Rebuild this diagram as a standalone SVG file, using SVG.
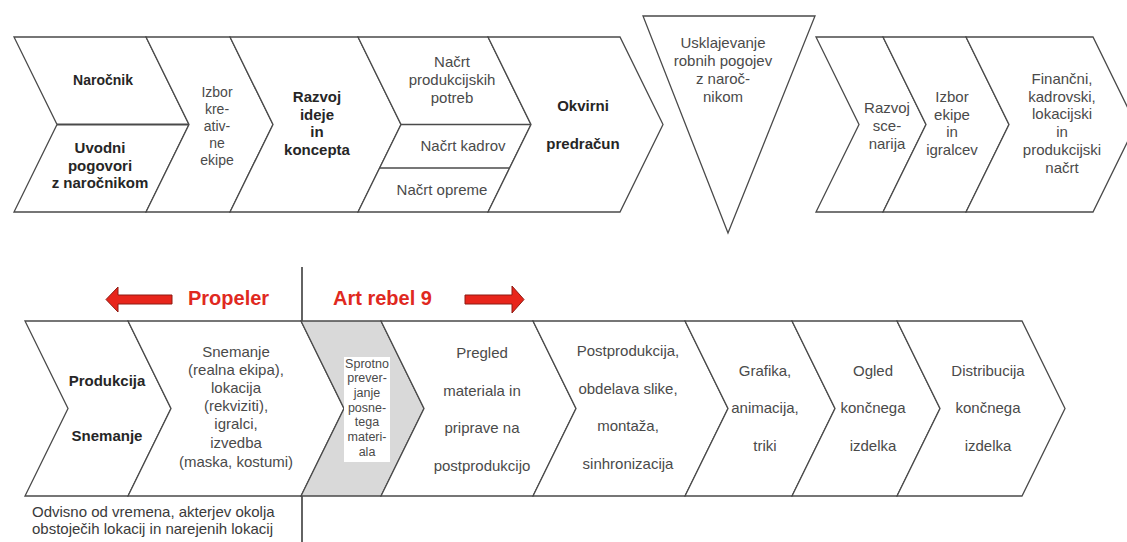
<svg xmlns="http://www.w3.org/2000/svg" width="1127" height="542" viewBox="0 0 1127 542">
<style>
.sh{fill:#fff;stroke:#4a4a4a;stroke-width:1.3;stroke-linejoin:miter}
.gr{fill:#d9d9d9;stroke:#4a4a4a;stroke-width:1.3}
.ln{stroke:#4a4a4a;stroke-width:1.3;fill:none}
.vl{stroke:#222;stroke-width:1.4;fill:none}
text{font-family:"Liberation Sans",Arial,sans-serif;text-anchor:middle}
.t{font-size:15px;fill:#4a4a4a}
.t14{font-size:14px;fill:#4a4a4a}
.s{font-size:12.5px;fill:#4a4a4a}
.b{font-size:15px;font-weight:bold;fill:#262626}
.r{font-size:20px;font-weight:bold;fill:#e0291f;text-anchor:start}
.n{font-size:15px;fill:#3a3a3a;text-anchor:start}
.ar{fill:#e8251b;stroke:#8e1a12;stroke-width:1}
</style>
<rect width="1127" height="542" fill="#fff"/>

<!-- top row -->
<g id="narocnik">
<polygon class="sh" points="14,37 146,37 189,124.5 146,212 14,212 57,124.5"/>
<line class="ln" x1="57" y1="124.5" x2="189" y2="124.5" style="stroke-width:1.8"/>
<text class="b" style="font-size:14px" x="103" y="85">Naročnik</text>
<text class="b" x="100" y="153">Uvodni</text>
<text class="b" x="100" y="170.5">pogovori</text>
<text class="b" x="100" y="188">z naročnikom</text>
</g>
<g id="izbor-kreativne-ekipe">
<polygon class="sh" points="146,37 230,37 273,124.5 230,212 146,212 189,124.5"/>
<text class="t14" x="217" y="97">Izbor</text>
<text class="t14" x="217" y="114">kre-</text>
<text class="t14" x="217" y="131">ativ-</text>
<text class="t14" x="217" y="148">ne</text>
<text class="t14" x="217" y="165">ekipe</text>
</g>
<g id="razvoj-ideje">
<polygon class="sh" points="230,37 358,37 401,124.5 358,212 230,212 273,124.5"/>
<text class="b" x="317" y="102">Razvoj</text>
<text class="b" x="317" y="119.5">ideje</text>
<text class="b" x="317" y="137">in</text>
<text class="b" x="317" y="155">koncepta</text>
</g>
<g id="nacrt">
<polygon class="sh" points="358,37 488,37 531,124.5 488,212 358,212 401,124.5"/>
<line class="ln" x1="401" y1="124.5" x2="531" y2="124.5"/>
<line class="ln" x1="379.6" y1="168" x2="509.6" y2="168"/>
<text class="t" x="452" y="67">Načrt</text>
<text class="t" x="452" y="85">produkcijskih</text>
<text class="t" x="452" y="103">potreb</text>
<text class="t" x="463" y="151">Načrt kadrov</text>
<text class="t" x="442" y="195">Načrt opreme</text>
</g>
<g id="okvirni-predracun">
<polygon class="sh" points="488,37 620,37 663,124.5 620,212 488,212 531,124.5"/>
<text class="b" x="583" y="111">Okvirni</text>
<text class="b" x="583" y="149">predračun</text>
</g>
<g id="usklajevanje">
<polygon class="sh" points="643,16 815,16 728,233"/>
<text class="t" x="723" y="48">Usklajevanje</text>
<text class="t" x="723" y="66">robnih pogojev</text>
<text class="t" x="723" y="84">z naroč-</text>
<text class="t" x="723" y="102">nikom</text>
</g>
<g id="razvoj-scenarija">
<polygon class="sh" points="816,37 883,37 926,124.5 883,212 816,212 859,124.5"/>
<text class="t" x="887" y="113">Razvoj</text>
<text class="t" x="887" y="131">sce-</text>
<text class="t" x="887" y="149">narija</text>
</g>
<g id="izbor-ekipe">
<polygon class="sh" points="883,37 966,37 1009,124.5 966,212 883,212 926,124.5"/>
<text class="t" x="952" y="102">Izbor</text>
<text class="t" x="952" y="119.5">ekipe</text>
<text class="t" x="952" y="137">in</text>
<text class="t" x="952" y="155">igralcev</text>
</g>
<g id="produkcijski-nacrt">
<polygon class="sh" points="966,37 1093,37 1136,124.5 1093,212 966,212 1009,124.5"/>
<text class="t" x="1062" y="84">Finančni,</text>
<text class="t" x="1062" y="101.5">kadrovski,</text>
<text class="t" x="1062" y="119">lokacijski</text>
<text class="t" x="1062" y="137">in</text>
<text class="t" x="1062" y="155">produkcijski</text>
<text class="t" x="1062" y="173">načrt</text>
</g>

<!-- labels and divider -->
<g id="divider">
<line class="vl" x1="302" y1="267" x2="302" y2="321"/>
<line class="vl" x1="302" y1="496" x2="302" y2="542"/>
</g>
<g id="connectors">
<polygon class="ar" points="106,299.5 118,287 118,295 172,295 172,304 118,304 118,312"/>
<polygon class="ar" points="465,295 512,295 512,286 524,299.5 512,313 512,304 465,304"/>
</g>
<g id="labels">
<text class="r" x="188" y="305">Propeler</text>
<text class="r" x="333" y="305">Art rebel 9</text>
<text class="n" x="32" y="517">Odvisno od vremena, akterjev okolja</text>
<text class="n" x="32" y="534">obstoječih lokacij in narejenih lokacij</text>
</g>

<!-- bottom row -->
<g id="produkcija">
<polygon class="sh" points="25,321 128,321 171,408.5 128,496 25,496 68,408.5"/>
<text class="b" x="107" y="386">Produkcija</text>
<text class="b" x="107" y="441">Snemanje</text>
</g>
<g id="snemanje">
<polygon class="sh" points="128,321 301,321 344,408.5 301,496 128,496 171,408.5"/>
<text class="t" x="236" y="357">Snemanje</text>
<text class="t" x="236" y="375">(realna ekipa),</text>
<text class="t" x="236" y="393">lokacija</text>
<text class="t" x="236" y="411">(rekviziti),</text>
<text class="t" x="236" y="429">igralci,</text>
<text class="t" x="236" y="448">izvedba</text>
<text class="t" x="236" y="467">(maska, kostumi)</text>
</g>
<g id="sprotno-preverjanje">
<polygon class="gr" points="301,321 381,321 424,408.5 381,496 301,496 344,408.5"/>
<rect x="344" y="357" width="46" height="105" fill="#fff"/>
<text class="s" x="367" y="368">Sprotno</text>
<text class="s" x="367" y="382">prever-</text>
<text class="s" x="367" y="397">janje</text>
<text class="s" x="367" y="412">posne-</text>
<text class="s" x="367" y="426">tega</text>
<text class="s" x="367" y="441">materi-</text>
<text class="s" x="367" y="456">ala</text>
</g>
<g id="pregled-materiala">
<polygon class="sh" points="381,321 533,321 576,408.5 533,496 381,496 424,408.5"/>
<text class="t" x="482" y="358">Pregled</text>
<text class="t" x="482" y="396">materiala in</text>
<text class="t" x="482" y="433">priprave na</text>
<text class="t" x="482" y="471">postprodukcijo</text>
</g>
<g id="postprodukcija">
<polygon class="sh" points="533,321 685,321 728,408.5 685,496 533,496 576,408.5"/>
<text class="t" x="628" y="356">Postprodukcija,</text>
<text class="t" x="628" y="394">obdelava slike,</text>
<text class="t" x="628" y="431">montaža,</text>
<text class="t" x="628" y="469">sinhronizacija</text>
</g>
<g id="grafika">
<polygon class="sh" points="685,321 792,321 835,408.5 792,496 685,496 728,408.5"/>
<text class="t" x="765" y="376">Grafika,</text>
<text class="t" x="765" y="413">animacija,</text>
<text class="t" x="765" y="451">triki</text>
</g>
<g id="ogled">
<polygon class="sh" points="792,321 897,321 940,408.5 897,496 792,496 835,408.5"/>
<text class="t" x="873" y="376">Ogled</text>
<text class="t" x="873" y="413">končnega</text>
<text class="t" x="873" y="451">izdelka</text>
</g>
<g id="distribucija">
<polygon class="sh" points="897,321 1022,321 1065,408.5 1022,496 897,496 940,408.5"/>
<text class="t" x="988" y="376">Distribucija</text>
<text class="t" x="988" y="413">končnega</text>
<text class="t" x="988" y="451">izdelka</text>
</g>
</svg>
